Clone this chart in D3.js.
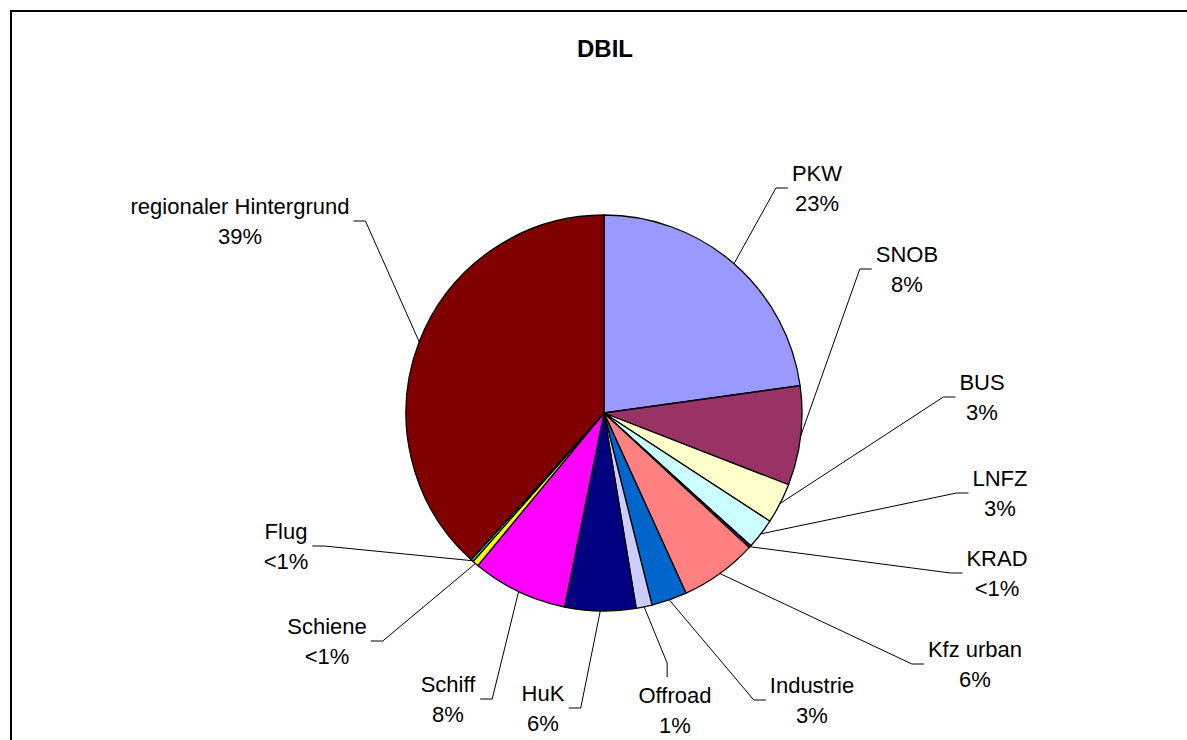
<!DOCTYPE html>
<html>
<head>
<meta charset="utf-8">
<script src="https://cdn.jsdelivr.net/npm/d3@7"></script>
<style>
  body { margin: 0; background: #fff; }
  svg { display: block; font-family: "Liberation Sans", Arial, sans-serif; }
</style>
</head>
<body>
<svg id="chart" width="1187" height="740"></svg>
<script>
// shares in percent, clockwise from 12 o'clock
var categories = ["PKW", "SNOB", "BUS", "LNFZ", "KRAD", "Kfz urban", "Industrie", "Offroad",
  "HuK", "Schiff", "Schiene", "Flug", "regionaler Hintergrund"];
var values = [22.8, 8.1, 3.3, 2.5, 0.2, 6.3, 2.9, 1.3, 5.8, 7.8, 0.5, 0.2, 38.3];
var percentLabels = ["23%", "8%", "3%", "3%", "<1%", "6%", "3%", "1%", "6%", "8%", "<1%", "<1%", "39%"];
var colors = ["#9999FF", "#993366", "#FFFFCC", "#CCFFFF", "#660066", "#FF8080", "#0066CC",
  "#CCCCFF", "#000080", "#FF00FF", "#FFFF00", "#00FFFF", "#800000"];

// label layout (centre of the two line block, side the leader attaches to)
var labelLayout = [
  { x: 817, y: 188, side: "left" },
  { x: 907, y: 269, side: "left" },
  { x: 982, y: 397, side: "left" },
  { x: 1000, y: 493, side: "left" },
  { x: 997, y: 573, side: "left" },
  { x: 975, y: 664, side: "left" },
  { x: 812, y: 700, side: "left" },
  { x: 675, y: 710, side: "top" },
  { x: 543, y: 708, side: "right" },
  { x: 448, y: 699, side: "right" },
  { x: 327, y: 641, side: "right" },
  { x: 286, y: 546, side: "right" },
  { x: 240, y: 221, side: "right" }
];

var svg = d3.select("#chart");
var cx = 604, cy = 413, radius = 198;

// frame
svg.append("path")
  .attr("d", "M11,740 L11,11 L1187,11")
  .attr("fill", "none")
  .attr("stroke", "#000")
  .attr("stroke-width", 2);

svg.append("text")
  .attr("x", 605)
  .attr("y", 57)
  .attr("text-anchor", "middle")
  .style("font-size", "24px")
  .style("font-weight", "bold")
  .text("DBIL");

var data = categories.map(function (c, i) {
  return { name: c, value: values[i], pct: percentLabels[i], color: colors[i], lab: labelLayout[i] };
});

var pie = d3.pie()
  .sort(null)
  .value(function (d) { return d.value; });

var arc = d3.arc()
  .innerRadius(0)
  .outerRadius(radius);

var arcs = pie(data);

var g = svg.append("g")
  .attr("transform", "translate(" + cx + "," + cy + ")");

g.selectAll(".slice")
  .data(arcs)
  .enter().append("path")
  .attr("class", "slice")
  .attr("d", arc)
  .attr("fill", function (d) { return d.data.color; })
  .attr("stroke", "#000")
  .attr("stroke-width", 1.3)
  .attr("stroke-linejoin", "round");

// labels
var labels = svg.selectAll(".lbl")
  .data(arcs)
  .enter().append("text")
  .attr("class", "lbl")
  .attr("text-anchor", "middle")
  .style("font-size", "22px")
  .attr("fill", "#000");

labels.append("tspan")
  .attr("x", function (d) { return d.data.lab.x; })
  .attr("y", function (d) { return d.data.lab.y - 7; })
  .text(function (d) { return d.data.name; });

labels.append("tspan")
  .attr("x", function (d) { return d.data.lab.x; })
  .attr("y", function (d) { return d.data.lab.y + 23; })
  .text(function (d) { return d.data.pct; });

// leader lines
labels.each(function (d) {
  var bb = this.getBBox();
  var mid = (d.startAngle + d.endAngle) / 2;
  var ex = cx + radius * Math.sin(mid), ey = cy - radius * Math.cos(mid);
  var pts;
  if (d.data.lab.side === "left") {
    var x0 = bb.x - 4;
    pts = [[x0, d.data.lab.y], [x0 - 12, d.data.lab.y], [ex, ey]];
  } else if (d.data.lab.side === "right") {
    var x1 = bb.x + bb.width + 4;
    pts = [[x1, d.data.lab.y], [x1 + 12, d.data.lab.y], [ex, ey]];
  } else {
    var y0 = bb.y + 2;
    pts = [[ex + 23, y0 - 8], [ex + 23, y0 - 22], [ex, ey]];
  }
  svg.append("path")
    .attr("d", d3.line()(pts))
    .attr("fill", "none")
    .attr("stroke", "#000")
    .attr("stroke-width", 1);
});
</script>
</body>
</html>
